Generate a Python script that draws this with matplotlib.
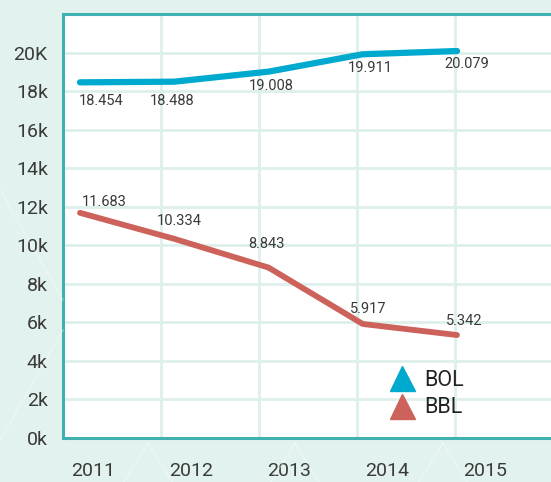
import matplotlib
matplotlib.use("Agg")
import matplotlib.pyplot as plt
from matplotlib.lines import Line2D
import numpy as np

years = [2011, 2012, 2013, 2014, 2015]
bol = [18454, 18488, 19008, 19911, 20079]
bbl = [11683, 10334, 8843, 5917, 5342]
bol_labels = ["18.454", "18.488", "19.008", "19.911", "20.079"]
bbl_labels = ["11.683", "10.334", "8.843", "5.917", "5.342"]
ytick_vals = [0, 2000, 4000, 6000, 8000, 10000, 12000, 14000, 16000, 18000, 20000]
ytick_text = ["0k", "2k", "4k", "6k", "8k", "10k", "12k", "14k", "16k", "18k", "20K"]

# label offsets in pixels (dx, dy) relative to each point
bol_off = [(-1, -19), (-24, -19), (-20, -14), (-15, -14), (-13, -13)]
bbl_off = [(2, 11), (-17, 18), (-20, 24), (-13, 15), (-11, 14)]

BLUE = "#00A9CE"
RED = "#CD625A"
TEAL = "#3FB1B0"
GRID = "#DDF0EB"
BG = "#E2F2EE"
TXT = "#3A3A3A"

plt.rcParams["font.family"] = ["Roboto", "DejaVu Sans"]

fig = plt.figure(figsize=(5.51, 4.82), dpi=100, facecolor=BG)

# faint triangle pattern on the background
for px in [148, 295, 443]:
    xs = np.array([px - 24, px, px + 24]) / 551
    ys = 1 - np.array([482, 443, 482]) / 482
    fig.add_artist(Line2D(xs, ys, color="white", lw=0.8, alpha=0.45, transform=fig.transFigure))
fig.add_artist(Line2D([0, 63 / 551], [1 - 440 / 482, 1 - 330 / 482], color="white", lw=0.8, alpha=0.45,
                      transform=fig.transFigure))
fig.add_artist(Line2D([0, 63 / 551], [1 - 190 / 482, 1 - 300 / 482], color="white", lw=0.8, alpha=0.45,
                      transform=fig.transFigure))

ax = fig.add_axes([63 / 551, 44 / 482, 1 - 63 / 551, 424 / 482])
ax.set_facecolor("white")

step = 94.25  # px per year
left = years[0] - 17 / step
right = years[-1] + 94 / step
ax.set_xlim(left, right)
ax.set_ylim(0, 22000)

gstep = 98 / step
gridx = [left + k * gstep for k in range(1, 5)]
for gx in gridx:
    ax.axvline(gx, color=GRID, lw=2, zorder=0)
for yv in ytick_vals[1:]:
    ax.axhline(yv, color=GRID, lw=2, zorder=0)

ax.set_xticks([left + k * gstep + 30 / step for k in range(5)])
ax.set_xticklabels([str(y) for y in years], fontsize=14, color=TXT)
ax.set_yticks(ytick_vals)
ax.set_yticklabels(ytick_text, fontsize=14, color=TXT)
ax.tick_params(axis="both", length=0)
ax.tick_params(axis="x", pad=17)
ax.tick_params(axis="y", pad=11)

for s in ["left", "bottom", "top"]:
    ax.spines[s].set_color(TEAL)
    ax.spines[s].set_linewidth(2.2)
ax.spines["right"].set_visible(False)

ax.plot(years, bol, color=BLUE, lw=4.5, solid_capstyle="round", solid_joinstyle="round", zorder=3)
ax.plot(years, bbl, color=RED, lw=4.2, solid_capstyle="round", solid_joinstyle="round", zorder=3)

for x, y, t, (dx, dy) in zip(years, bol, bol_labels, bol_off):
    ax.annotate(t, (x, y), xytext=(dx, dy), textcoords="offset pixels", ha="left", va="center",
                fontsize=10.5, color=TXT, zorder=4)
for x, y, t, (dx, dy) in zip(years, bbl, bbl_labels, bbl_off):
    ax.annotate(t, (x, y), xytext=(dx, dy), textcoords="offset pixels", ha="left", va="center",
                fontsize=10.5, color=TXT, zorder=4)

handles = [Line2D([], [], marker="^", ls="none", color=BLUE, markersize=18, label="BOL"),
           Line2D([], [], marker="^", ls="none", color=RED, markersize=18, label="BBL")]
ax.legend(handles=handles, loc="center", bbox_to_anchor=(0.745, 0.104), frameon=False,
          fontsize=15.5, labelcolor="#222222", handletextpad=0.45, labelspacing=0.3,
          handlelength=1.2, borderpad=0)

fig.savefig("out.png", dpi=100, facecolor=BG)
